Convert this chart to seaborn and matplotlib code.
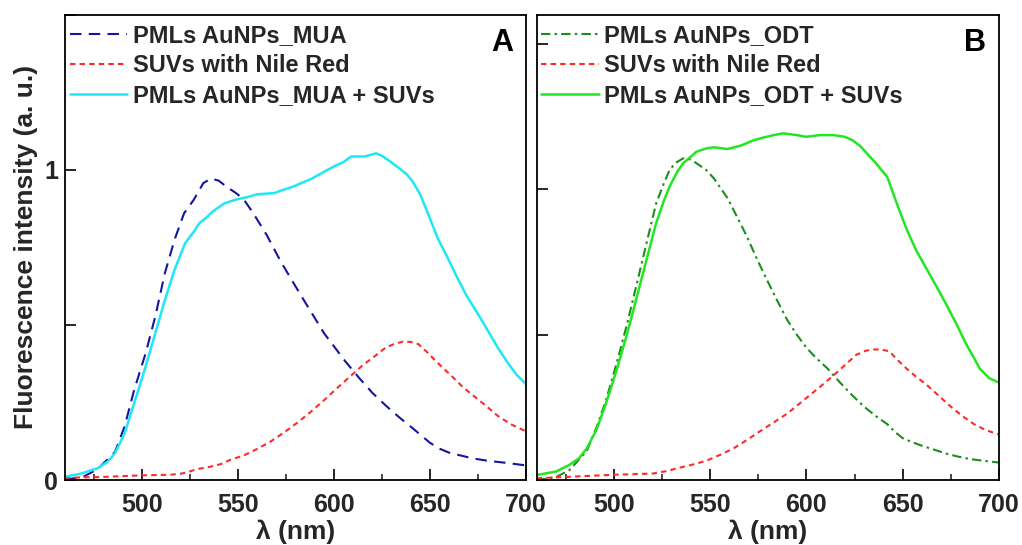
import numpy as np
import pandas as pd
import matplotlib
matplotlib.use("Agg")
import matplotlib.pyplot as plt
import seaborn as sns
from matplotlib.ticker import MultipleLocator, FixedLocator

# ---------------- data ----------------
# Panel A
wl_mua = [460, 470, 477, 486, 491, 496, 502, 507, 512, 517, 522, 527, 532, 536, 540, 544, 549, 553,
          558, 565, 572, 578, 585, 595, 606, 613, 620, 627, 634, 640, 645, 650, 655, 660, 666,
          672, 680, 690, 700]
i_mua = [0.0, 0.012, 0.035, 0.09, 0.172, 0.29, 0.409, 0.527, 0.667, 0.774, 0.86, 0.903, 0.957,
         0.972, 0.965, 0.946, 0.925, 0.905, 0.86, 0.79, 0.708, 0.645, 0.573, 0.472, 0.382, 0.33,
         0.281, 0.24, 0.202, 0.172, 0.146, 0.12, 0.101, 0.088, 0.079, 0.07, 0.062, 0.055, 0.047]

wl_suv_a = [460, 480, 500, 515, 520, 524, 528, 535, 541, 546, 553, 560, 567, 574, 581, 588, 595,
            602, 609, 615, 620, 627, 632, 636, 640, 644, 648, 652, 657, 662, 667, 673, 679, 685,
            692, 700]
i_suv_a = [0.007, 0.01, 0.015, 0.017, 0.02, 0.025, 0.034, 0.042, 0.051, 0.065, 0.079, 0.1, 0.124,
           0.153, 0.185, 0.22, 0.258, 0.298, 0.337, 0.37, 0.393, 0.427, 0.44, 0.446, 0.445, 0.438,
           0.415, 0.39, 0.36, 0.331, 0.3, 0.27, 0.24, 0.208, 0.18, 0.157]

wl_mua_suv = [460, 468, 477, 482, 486, 491, 496, 502, 507, 512, 517, 522.5, 527, 530, 534, 537,
              543, 549, 555, 560, 569, 572, 578, 588, 600, 605, 609, 616, 622, 625, 629, 634,
              638, 641, 645, 650, 654, 659, 664, 669, 675, 680, 685, 690, 695, 700]
i_mua_suv = [0.011, 0.02, 0.038, 0.058, 0.086, 0.15, 0.247, 0.366, 0.473, 0.58, 0.677, 0.763,
             0.8, 0.828, 0.848, 0.866, 0.892, 0.904, 0.912, 0.921, 0.925, 0.932, 0.944, 0.97,
             1.011, 1.025, 1.043, 1.043, 1.053, 1.045, 1.028, 1.005, 0.985, 0.962, 0.92, 0.843,
             0.78, 0.719, 0.655, 0.595, 0.535, 0.483, 0.43, 0.382, 0.34, 0.309]

# Panel B
wl_odt = [460, 470, 477, 486, 491, 496, 501.5, 507, 512, 517, 522, 526, 529, 532, 536, 540, 543,
          548, 552, 559, 564, 569, 574, 579, 585, 590, 595, 600, 605, 611, 617.5, 624, 630, 636,
          642, 646, 650, 655, 659, 666, 673, 679, 685, 692, 700]
i_odt = [0.0, 0.01, 0.034, 0.1, 0.18, 0.275, 0.401, 0.539, 0.676, 0.814, 0.951, 1.02, 1.066,
         1.09, 1.106, 1.102, 1.089, 1.066, 1.037, 0.97, 0.905, 0.839, 0.765, 0.695, 0.615,
         0.551, 0.5, 0.455, 0.42, 0.383, 0.335, 0.29, 0.252, 0.22, 0.192, 0.165, 0.144, 0.13,
         0.12, 0.105, 0.09, 0.08, 0.072, 0.066, 0.06]

wl_suv_b = [460, 500, 520, 527, 534, 541, 548, 555, 562, 569, 576, 583, 590, 600, 607, 614, 620,
            626, 631, 635, 639, 643, 647, 652, 657, 663, 669, 675, 681, 687, 693, 700]
i_suv_b = [0.006, 0.018, 0.022, 0.03, 0.042, 0.053, 0.066, 0.086, 0.108, 0.137, 0.168, 0.198,
           0.228, 0.282, 0.32, 0.359, 0.395, 0.431, 0.445, 0.449, 0.448, 0.443, 0.415, 0.383,
           0.355, 0.324, 0.288, 0.252, 0.22, 0.192, 0.172, 0.156]

wl_odt_suv = [460, 470, 477, 482, 486, 491, 496, 501.5, 507, 512, 517, 522, 526, 529, 533, 536,
              540, 543, 548, 552, 559, 566, 572.5, 578, 583, 588, 595, 600, 607, 614, 620, 624,
              628, 631, 636, 642, 647, 652, 657, 663, 668, 673, 678, 683, 687, 690, 695, 700]
i_odt_suv = [0.017, 0.029, 0.052, 0.075, 0.109, 0.172, 0.264, 0.378, 0.504, 0.63, 0.757, 0.883,
             0.96, 1.009, 1.06, 1.089, 1.112, 1.129, 1.14, 1.144, 1.138, 1.15, 1.168, 1.178,
             1.186, 1.192, 1.186, 1.18, 1.186, 1.186, 1.18, 1.168, 1.148, 1.126, 1.09, 1.042,
             0.95, 0.863, 0.79, 0.719, 0.66, 0.599, 0.535, 0.467, 0.42, 0.383, 0.35, 0.335]

labels_a = ["PMLs AuNPs_MUA", "SUVs with Nile Red", "PMLs AuNPs_MUA + SUVs"]
labels_b = ["PMLs AuNPs_ODT", "SUVs with Nile Red", "PMLs AuNPs_ODT + SUVs"]
x_ticks = [500, 550, 600, 650, 700]
xlabel = "λ (nm)"
ylabel = "Fluorescence intensity (a. u.)"

# ---------------- style ----------------
sns.set_theme(style="ticks")
plt.rcParams["font.family"] = ["Liberation Sans", "DejaVu Sans"]
plt.rcParams["font.weight"] = "bold"
plt.rcParams["axes.labelweight"] = "bold"

fig = plt.figure(figsize=(10.22, 5.45), dpi=100)
axA = fig.add_axes([65 / 1022, 1 - 480 / 545, 461 / 1022, 465.3 / 545])
axB = fig.add_axes([536.7 / 1022, 1 - 480 / 545, 462.3 / 1022, 465.3 / 545])

c_blue = "#1515a0"
c_red = "#ff2a2a"
c_cyan = "#1ee8f5"
c_green = "#22e622"
c_dgreen = "#1b8f1b"

lw = 1.5
ls_dash = (0, (5.5, 3.5))
ls_red = (0, (2.6, 2))
ls_dashdot = (0, (4.5, 2, 1.2, 2))

sns.lineplot(x=wl_mua, y=i_mua, ax=axA, color=c_blue, lw=lw, linestyle=ls_dash,
             label=labels_a[0], sort=False, estimator=None)
sns.lineplot(x=wl_suv_a, y=i_suv_a, ax=axA, color=c_red, lw=lw, linestyle=ls_red,
             label=labels_a[1], sort=False, estimator=None)
sns.lineplot(x=wl_mua_suv, y=i_mua_suv, ax=axA, color=c_cyan, lw=1.8,
             label=labels_a[2], sort=False, estimator=None)

sns.lineplot(x=wl_odt, y=i_odt, ax=axB, color=c_dgreen, lw=lw, linestyle=ls_dashdot,
             label=labels_b[0], sort=False, estimator=None)
sns.lineplot(x=wl_suv_b, y=i_suv_b, ax=axB, color=c_red, lw=lw, linestyle=ls_red,
             label=labels_b[1], sort=False, estimator=None)
sns.lineplot(x=wl_odt_suv, y=i_odt_suv, ax=axB, color=c_green, lw=1.8,
             label=labels_b[2], sort=False, estimator=None)

for ax, letter, ymax in [(axA, "A", 1.5), (axB, "B", 1.6)]:
    ax.set_xlim(460, 700)
    ax.set_ylim(0, ymax)
    ax.xaxis.set_major_locator(FixedLocator(x_ticks))
    ax.xaxis.set_minor_locator(MultipleLocator(25))
    ax.tick_params(axis="both", which="major", direction="in", length=8, width=1.2,
                   labelsize=18, pad=5, color="black")
    ax.tick_params(axis="x", which="major", pad=9)
    ax.tick_params(axis="x", which="minor", direction="in", length=4.5, width=1.2)
    for lab in ax.get_xticklabels():
        lab.set_fontweight("bold")
    for s in ax.spines.values():
        s.set_visible(True)
        s.set_linewidth(1.3)
        s.set_color("black")
    ax.set_xlabel(xlabel, fontsize=19, fontweight="bold", labelpad=2)
    ax.text(0.972, 0.94, letter, transform=ax.transAxes, ha="right", va="center",
            fontsize=22, fontweight="bold", color="black")
    leg = ax.legend(loc="upper left", bbox_to_anchor=(-0.008, 0.997), frameon=False,
                    prop={"size": 17, "weight": "bold"}, handlelength=2.45,
                    handletextpad=0.22, labelspacing=0.3, borderaxespad=0.15,
                    borderpad=0.2)

axA.set_yticks([0, 0.5, 1, 1.5])
axA.set_yticklabels(["0", "", "1", ""], fontsize=18, fontweight="bold")
axA.set_ylabel(ylabel, fontsize=19, fontweight="bold", labelpad=4)
axB.set_yticks([0, 0.5, 1, 1.5])
axB.set_yticklabels([])
axB.set_ylabel("")

fig.savefig("out.png", dpi=100, facecolor="white")
